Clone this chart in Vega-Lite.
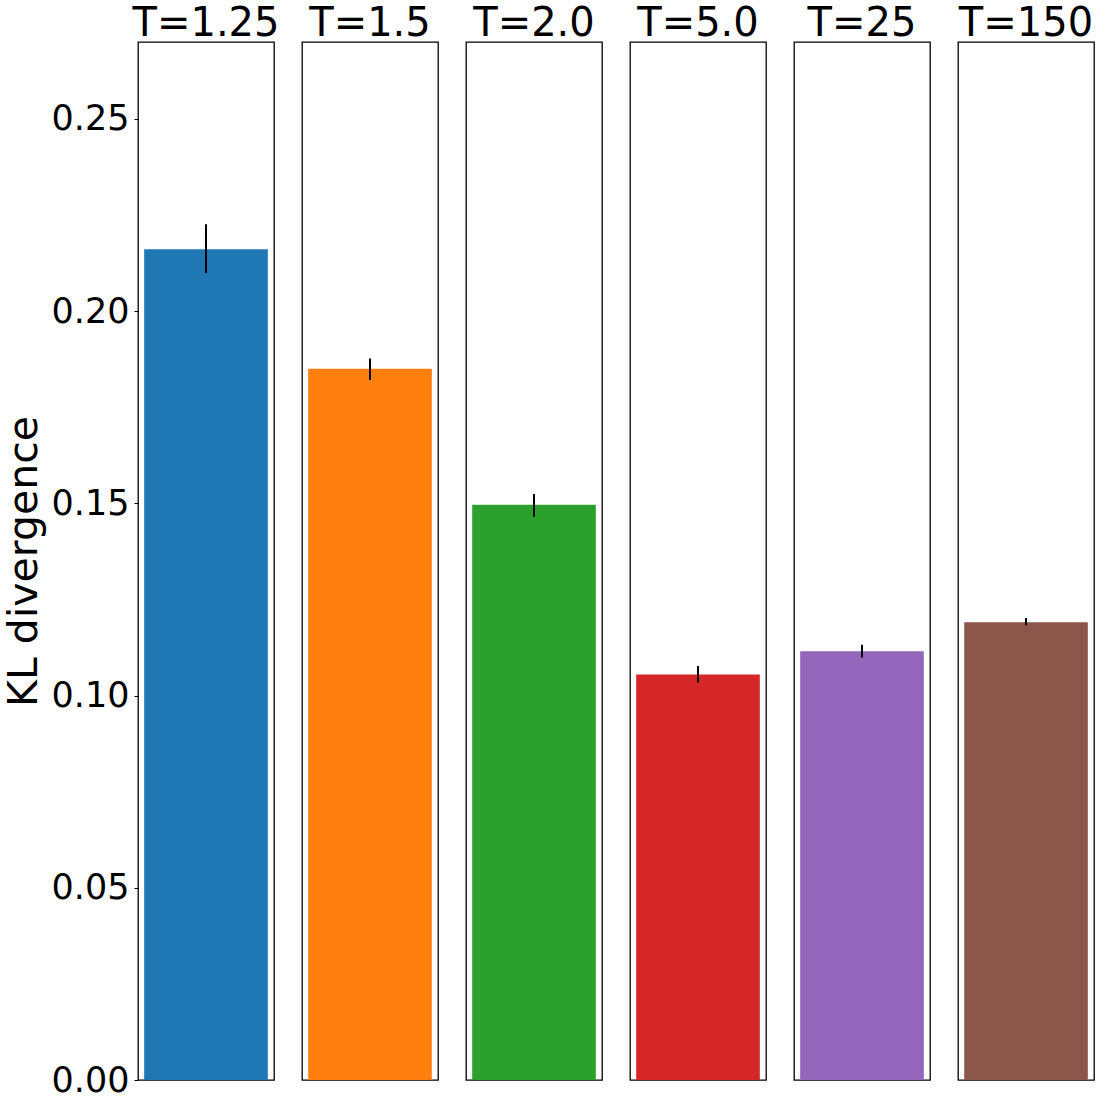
{
  "$schema": "https://vega.github.io/schema/vega-lite/v6.json",
  "autosize": {"type": "pad"},
  "padding": {"left": 3, "top": 4, "right": 0, "bottom": 0},
  "background": "white",
  "data": {
    "values": [
      {"label": "T=1.25", "kl": 0.2161, "lo": 0.2099, "hi": 0.2226},
      {"label": "T=1.5", "kl": 0.1850, "lo": 0.1821, "hi": 0.1877},
      {"label": "T=2.0", "kl": 0.1496, "lo": 0.1465, "hi": 0.1524},
      {"label": "T=5.0", "kl": 0.1055, "lo": 0.1034, "hi": 0.1077},
      {"label": "T=25", "kl": 0.1115, "lo": 0.1099, "hi": 0.1132},
      {"label": "T=150", "kl": 0.1191, "lo": 0.1183, "hi": 0.1202}
    ]
  },
  "facet": {
    "column": {
      "field": "label",
      "type": "nominal",
      "sort": ["T=1.25", "T=1.5", "T=2.0", "T=5.0", "T=25", "T=150"],
      "header": {
        "title": null,
        "labelFontSize": 40,
        "labelFont": "DejaVu Sans",
        "labelColor": "black",
        "labelPadding": -2
      }
    }
  },
  "spacing": 28,
  "bounds": "flush",
  "spec": {
    "width": 136,
    "height": 1038,
    "layer": [
      {
        "mark": {"type": "bar"},
        "encoding": {
          "x": {
            "field": "label",
            "type": "nominal",
            "axis": null,
            "scale": {"paddingInner": 0, "paddingOuter": 0.05}
          },
          "y": {
            "field": "kl",
            "type": "quantitative",
            "scale": {"domain": [0, 0.27], "nice": false},
            "axis": {
              "title": "KL divergence",
              "titleFontSize": 41,
              "titleFontWeight": "normal",
              "titleFont": "DejaVu Sans",
              "titleColor": "black",
              "titlePadding": 6,
              "labelFontSize": 35,
              "labelFont": "DejaVu Sans",
              "labelColor": "black",
              "labelPadding": 5,
              "values": [0, 0.05, 0.1, 0.15, 0.2, 0.25],
              "format": ".2f",
              "grid": false,
              "domain": false,
              "ticks": true,
              "tickSize": 4,
              "tickColor": "black"
            }
          },
          "color": {
            "field": "label",
            "type": "nominal",
            "legend": null,
            "scale": {
              "domain": ["T=1.25", "T=1.5", "T=2.0", "T=5.0", "T=25", "T=150"],
              "range": ["#1f77b4", "#ff7f0e", "#2ca02c", "#d62728", "#9467bd", "#8c564b"]
            }
          }
        }
      },
      {
        "mark": {"type": "rule", "color": "black", "strokeWidth": 2},
        "encoding": {
          "x": {"field": "label", "type": "nominal", "axis": null},
          "y": {"field": "lo", "type": "quantitative"},
          "y2": {"field": "hi"}
        }
      }
    ]
  },
  "resolve": {"scale": {"x": "independent"}},
  "config": {
    "view": {"stroke": "black", "strokeWidth": 1.3},
    "font": "DejaVu Sans"
  }
}
